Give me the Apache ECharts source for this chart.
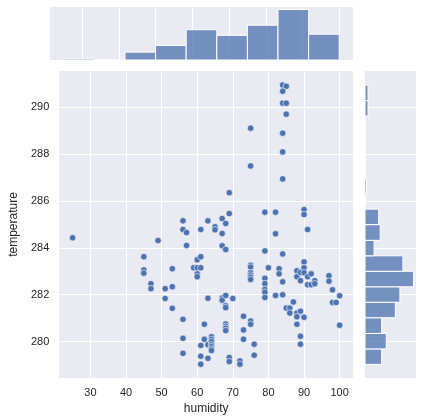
<!DOCTYPE html>
<html>
<head>
<meta charset="utf-8">
<script src="https://cdn.jsdelivr.net/npm/echarts@6/dist/echarts.min.js"></script>
<style>
  html, body { margin: 0; padding: 0; background: #fff; }
  #chart { width: 423px; height: 420px; }
</style>
</head>
<body>
<div id="chart"></div>
<script>
// scatter points (humidity[i], temperature[i])
var humidity = [
  84, 85, 84, 84, 85, 85, 75, 84, 84, 75, 84, 69,
  69, 67, 68, 79, 82, 90, 90, 56, 63,
  25, 49, 56, 57, 57, 61, 65, 65, 67, 67, 68, 82, 91, 79, 84,
  45, 45, 45, 47, 47, 51, 53, 53, 51, 59, 60, 61, 60, 61, 60, 60,
  75, 75, 75, 75, 75, 75,
  80, 79, 79, 79, 79, 83, 83, 84, 82, 84, 79,
  88, 88, 89, 89, 90, 90, 90, 91, 92, 91, 92, 93, 93, 97, 97, 98, 100,
  63, 67, 67, 68, 70,
  53, 56, 62, 56, 62, 61, 56, 61, 61,
  68, 68, 63, 64, 64, 64, 64, 64, 64, 64, 63,
  68, 68, 68, 68, 73, 75, 75, 73, 73, 76, 76, 69, 69, 72, 72,
  85, 86, 87, 86, 88, 88, 89, 90, 88, 89, 89, 98, 99, 100
];
var temperature = [
  290.94, 290.89, 290.68, 290.17, 290.17, 289.70, 289.10, 288.89, 288.09, 287.49, 286.94, 286.35,
  285.46, 285.25, 285.04, 285.52, 285.52, 285.63, 285.42, 285.15, 285.15,
  284.43, 284.31, 284.78, 284.65, 284.10, 284.78, 284.90, 284.77, 284.61, 284.09, 283.93, 284.60, 284.78, 283.87, 283.74,
  283.62, 283.06, 282.92, 282.47, 282.26, 282.26, 283.11, 282.34, 281.84, 283.15, 283.15, 283.15, 283.49, 283.62, 282.89, 282.77,
  283.26, 283.18, 282.94, 282.84, 282.75, 282.65,
  283.15, 282.70, 282.47, 282.23, 282.11, 283.11, 282.89, 282.55, 281.97, 282.00, 281.88,
  283.02, 282.77, 282.95, 282.60, 283.40, 283.15, 282.94, 282.77, 282.89, 282.43, 282.43, 282.60, 282.47, 282.81, 282.58, 282.21, 281.96,
  281.85, 281.86, 281.77, 281.97, 281.84,
  281.42, 280.95, 280.74, 280.14, 280.10, 279.84, 279.50, 279.38, 279.04,
  281.53, 281.45, 279.87, 280.21, 280.10, 280.00, 279.87, 279.79, 279.69, 279.62, 279.29,
  280.75, 280.65, 280.57, 280.47, 281.08, 280.88, 280.74, 280.50, 280.10, 279.89, 279.42, 279.32, 279.15, 279.18, 279.04,
  281.43, 281.43, 281.69, 281.22, 281.22, 281.06, 281.30, 281.04, 280.74, 280.23, 279.89, 281.67, 281.67, 280.70
];

// marginal histograms
var humidityBins = [25, 33.33, 41.67, 50, 58.33, 66.67, 75, 83.33, 91.67, 100];
var humidityCounts = [1, 0, 7, 13, 27, 22, 31, 45, 23];
var temperatureBins = [279.03, 279.69, 280.35, 281.02, 281.68, 282.34, 283.00, 283.66, 284.32, 284.99,
  285.65, 286.31, 286.97, 287.63, 288.29, 288.96, 289.62, 290.28, 290.94];
var temperatureCounts = [11, 14, 11, 20, 23, 32, 25, 6, 10, 9, 0, 1, 0, 0, 0, 0, 2, 2];

var xTicks = [30, 40, 50, 60, 70, 80, 90, 100];
var yTicks = [280, 282, 284, 286, 288, 290];

var xMin = 21.25, xMax = 103.75;
var yMin = 278.45, yMax = 291.54;

var blue = '#4C72B0';
var histFill = 'rgba(76,114,176,0.75)';
var textColor = '#262626';
var font = 'Liberation Sans, Arial, sans-serif';

var points = humidity.map(function (h, i) { return [h, temperature[i]]; });
var topData = humidityCounts.map(function (c, i) { return [humidityBins[i], humidityBins[i + 1], c]; });
var rightData = temperatureCounts.map(function (c, i) { return [temperatureBins[i], temperatureBins[i + 1], c]; });

var split = { show: true, lineStyle: { color: '#ffffff', width: 1 } };
var noLine = { show: false };

var chart = echarts.init(document.getElementById('chart'));
chart.setOption({
  animation: false,
  textStyle: { fontFamily: font },
  grid: [
    { left: 50, top: 71, width: 303, height: 307, show: true, backgroundColor: '#EAEAF2', borderWidth: 0 },
    { left: 50, top: 7, width: 303, height: 53, show: true, backgroundColor: '#EAEAF2', borderWidth: 0 },
    { left: 365, top: 71, width: 51, height: 307, show: true, backgroundColor: '#EAEAF2', borderWidth: 0 }
  ],
  xAxis: [
    {
      gridIndex: 0, type: 'value', min: xMin, max: xMax,
      axisLine: noLine,
      axisTick: { show: false, customValues: xTicks },
      axisLabel: { customValues: xTicks, color: textColor, fontSize: 11, margin: 9 },
      splitLine: split,
      name: 'humidity', nameLocation: 'middle', nameGap: 23,
      nameTextStyle: { color: textColor, fontSize: 12 }
    },
    {
      gridIndex: 1, type: 'value', min: xMin, max: xMax,
      axisLine: noLine,
      axisTick: { show: false, customValues: xTicks },
      axisLabel: { show: false, customValues: xTicks },
      splitLine: split
    },
    {
      gridIndex: 2, type: 'value', min: 0, max: Math.max.apply(null, temperatureCounts) * 1.05,
      axisLine: noLine, axisTick: noLine, axisLabel: noLine, splitLine: noLine
    }
  ],
  yAxis: [
    {
      gridIndex: 0, type: 'value', min: yMin, max: yMax,
      axisLine: noLine,
      axisTick: { show: false, customValues: yTicks },
      axisLabel: { customValues: yTicks, color: textColor, fontSize: 11, margin: 10 },
      splitLine: split,
      name: 'temperature', nameLocation: 'middle', nameGap: 34, nameRotate: 90,
      nameTextStyle: { color: textColor, fontSize: 12 }
    },
    {
      gridIndex: 1, type: 'value', min: 0, max: Math.max.apply(null, humidityCounts) * 1.05,
      axisLine: noLine, axisTick: noLine, axisLabel: noLine, splitLine: noLine
    },
    {
      gridIndex: 2, type: 'value', min: yMin, max: yMax,
      axisLine: noLine,
      axisTick: { show: false, customValues: yTicks },
      axisLabel: { show: false, customValues: yTicks },
      splitLine: split
    }
  ],
  series: [
    {
      type: 'scatter', xAxisIndex: 0, yAxisIndex: 0,
      data: points, symbol: 'circle', symbolSize: 6.5,
      itemStyle: { color: blue, opacity: 1, borderColor: '#ffffff', borderWidth: 0.6 }
    },
    {
      type: 'custom', xAxisIndex: 1, yAxisIndex: 1, data: topData,
      renderItem: function (params, api) {
        var a = api.coord([api.value(0), 0]);
        var b = api.coord([api.value(1), api.value(2)]);
        return {
          type: 'rect',
          shape: { x: a[0], y: b[1], width: b[0] - a[0], height: a[1] - b[1] },
          style: { fill: histFill, stroke: '#ffffff', lineWidth: 1 }
        };
      }
    },
    {
      type: 'custom', xAxisIndex: 2, yAxisIndex: 2, data: rightData,
      renderItem: function (params, api) {
        var a = api.coord([0, api.value(0)]);
        var b = api.coord([api.value(2), api.value(1)]);
        return {
          type: 'rect',
          shape: { x: a[0], y: b[1], width: b[0] - a[0], height: a[1] - b[1] },
          style: { fill: histFill, stroke: '#ffffff', lineWidth: 1 }
        };
      }
    }
  ]
});
</script>
</body>
</html>
